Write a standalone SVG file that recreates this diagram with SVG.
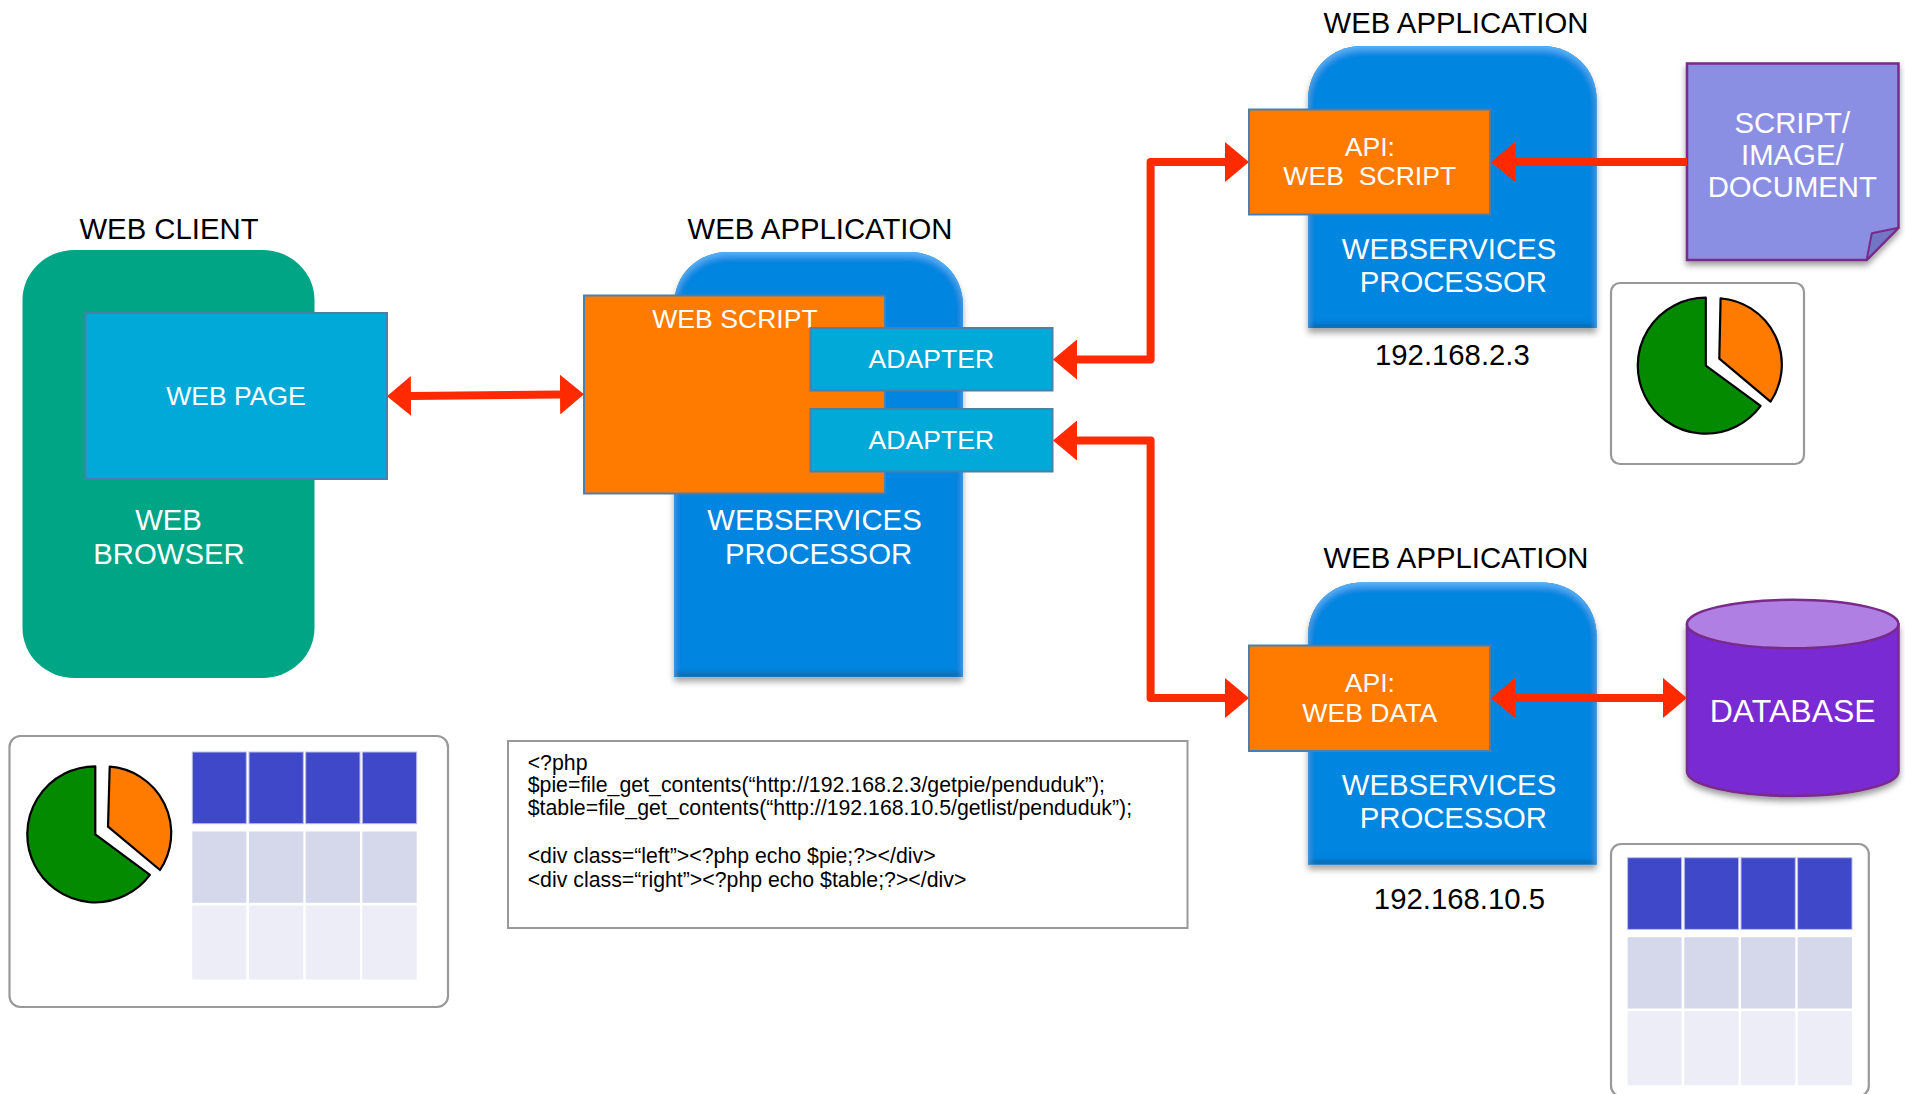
<svg xmlns="http://www.w3.org/2000/svg" width="1905" height="1094" viewBox="0 0 1905 1094">
<style>
text{font-family:"Liberation Sans",Arial,sans-serif;text-anchor:middle;fill:#fff}
.t29{font-size:29.3px}
.t26{font-size:26.6px}
.blk{fill:#000}
.blue{fill:#0285e0;filter:url(#bevel)}
.orange{fill:#ff7b00;stroke:#4a7fae;stroke-width:2}
.cyan{fill:#00a9d8;stroke:#4a7fae;stroke-width:2}
.panel{fill:#fff;stroke:#999;stroke-width:2.2}
.pie{stroke:#000;stroke-width:2.2;stroke-linejoin:round}
.h{fill:#3f48c8;stroke:#b9bde8;stroke-width:1}
.m{fill:#d5d7ea}
.l{fill:#ecedf6}
.wire{fill:none;stroke:#ff2a00;stroke-width:8;stroke-linejoin:round}
.code{font-size:21.3px;text-anchor:start;fill:#000}
</style>
<defs>
<marker id="head" markerUnits="userSpaceOnUse" markerWidth="24" markerHeight="40" refX="0" refY="20" orient="auto-start-reverse"><path d="M0 0L24 20L0 40Z" fill="#ff2a00"/></marker>
<filter id="bevel" x="-10%" y="-10%" width="120%" height="120%">
<feGaussianBlur in="SourceAlpha" stdDeviation="3" result="b"/>
<feOffset in="b" dy="5" result="so"/>
<feFlood flood-color="#000" flood-opacity=".35"/><feComposite in2="so" operator="in" result="shadow"/>
<feComponentTransfer in="SourceAlpha" result="inv"><feFuncA type="table" tableValues="1 0"/></feComponentTransfer>
<feGaussianBlur in="inv" stdDeviation="3" result="ib"/>
<feOffset in="ib" dy="4" result="lo"/>
<feFlood flood-color="#58b4fa" flood-opacity="1"/><feComposite in2="lo" operator="in"/><feComposite in2="SourceAlpha" operator="in" result="light"/>
<feOffset in="ib" dy="-3" result="dko"/>
<feFlood flood-color="#14609f" flood-opacity="1"/><feComposite in2="dko" operator="in"/><feComposite in2="SourceAlpha" operator="in" result="dark"/>
<feGaussianBlur in="inv" stdDeviation="1.5" result="ib2"/>
<feFlood flood-color="#14609f" flood-opacity=".7"/><feComposite in2="ib2" operator="in"/><feComposite in2="SourceAlpha" operator="in" result="edge"/>
<feMerge><feMergeNode in="shadow"/><feMergeNode in="SourceGraphic"/><feMergeNode in="edge"/><feMergeNode in="dark"/><feMergeNode in="light"/></feMerge>
</filter>
<filter id="shadow" x="-10%" y="-10%" width="120%" height="125%"><feDropShadow dx="0" dy="4" stdDeviation="3" flood-color="#000" flood-opacity=".4"/></filter>
<g id="table-cells-a">
<rect class="h" x="192.3" y="752" width="54" height="71.7"/><rect class="h" x="249" y="752" width="54.3" height="71.7"/><rect class="h" x="305.7" y="752" width="54.3" height="71.7"/><rect class="h" x="362.3" y="752" width="54.4" height="71.7"/>
<rect class="m" x="192.3" y="831.5" width="54" height="71.3"/><rect class="m" x="249" y="831.5" width="54.3" height="71.3"/><rect class="m" x="305.7" y="831.5" width="54.3" height="71.3"/><rect class="m" x="362.3" y="831.5" width="54.4" height="71.3"/>
<rect class="l" x="192.3" y="905.5" width="54" height="74"/><rect class="l" x="249" y="905.5" width="54.3" height="74"/><rect class="l" x="305.7" y="905.5" width="54.3" height="74"/><rect class="l" x="362.3" y="905.5" width="54.4" height="74"/>
</g>
<g id="pie-a">
<path class="pie" fill="#038a00" d="M95.3 834.3V766.3A68 68 0 1 0 149.9 874.8Z"/>
<path class="pie" fill="#ff7b00" d="M108 826.7L109.7 766.7A66.5 66.5 0 0 1 160 870Z"/>
</g>
</defs>

<g id="web-client">
<text class="t29 blk" x="169" y="238.5">WEB CLIENT</text>
<rect x="22.5" y="250" width="292" height="428" rx="52" ry="50" fill="#00a585"/>
<text class="t29" x="168.5" y="529.5">WEB</text>
<text class="t29" x="169" y="564">BROWSER</text>
</g>
<g id="web-page">
<rect class="cyan" x="85.5" y="313" width="301.5" height="166"/>
<text x="236" y="405" font-size="26.5">WEB PAGE</text>
</g>

<g id="web-app-main">
<text class="t29 blk" x="820" y="238.5">WEB APPLICATION</text>
<path class="blue" d="M674 676.7V306C674 274 698 252 728 252H909C939 252 963 274 963 306V676.7Z"/>
<text class="t29" x="814.5" y="529.5">WEBSERVICES</text>
<text class="t29" x="818.5" y="564">PROCESSOR</text>
</g>
<g id="web-script">
<rect class="orange" x="584" y="295.5" width="301" height="198"/>
<text class="t26" x="735" y="328">WEB SCRIPT</text>
</g>
<g id="adapter-1">
<rect class="cyan" x="810.5" y="328" width="242" height="62.5"/>
<text class="t26" x="931.4" y="367.5">ADAPTER</text>
</g>
<g id="adapter-2">
<rect class="cyan" x="810.5" y="409" width="242" height="62.5"/>
<text class="t26" x="931.4" y="448.5">ADAPTER</text>
</g>

<g id="web-app-script">
<text class="t29 blk" x="1456" y="32.5">WEB APPLICATION</text>
<path class="blue" d="M1308 328V100C1308 68 1332 46 1362 46H1542C1572 46 1596.6 68 1596.6 100V328Z"/>
<text class="t29" x="1449" y="259">WEBSERVICES</text>
<text class="t29" x="1453.3" y="291.5">PROCESSOR</text>
<text class="t29 blk" x="1452.4" y="364.5">192.168.2.3</text>
</g>
<g id="api-web-script">
<rect class="orange" x="1249" y="109.5" width="241" height="105"/>
<text class="t26" x="1369.8" y="156">API:</text>
<text class="t26" x="1369.8" y="185" xml:space="preserve">WEB  SCRIPT</text>
</g>

<g id="web-app-data">
<text class="t29 blk" x="1456" y="568">WEB APPLICATION</text>
<path class="blue" d="M1308 864.4V636C1308 604 1332 582.4 1362 582.4H1542C1572 582.4 1596.6 604 1596.6 636V864.4Z"/>
<text class="t29" x="1449" y="795">WEBSERVICES</text>
<text class="t29" x="1453.3" y="827.5">PROCESSOR</text>
<text class="t29 blk" x="1459.4" y="908.5">192.168.10.5</text>
</g>
<g id="api-web-data">
<rect class="orange" x="1249" y="645.5" width="241" height="105.5"/>
<text class="t26" x="1369.8" y="692">API:</text>
<text class="t26" x="1369.8" y="722">WEB DATA</text>
</g>

<g id="document">
<path d="M1687 63.5H1898.5V227.7L1866.6 260H1687Z" fill="#8b8fe3" stroke="#7a2a8a" stroke-width="2.5" filter="url(#shadow)"/>
<path d="M1898.5 227.7L1871.8 233.3L1866.6 260Z" fill="#7276c4" stroke="#7a2a8a" stroke-width="2" stroke-linejoin="round"/>
<text class="t29" x="1792.3" y="132.5">SCRIPT/</text>
<text class="t29" x="1792.3" y="164.5">IMAGE/</text>
<text class="t29" x="1792.3" y="196.5">DOCUMENT</text>
</g>

<g id="database">
<path d="M1687 624.4V771.5C1687 785 1734.4 796 1792.7 796S1898.5 785 1898.5 771.5V624.4Z" fill="#7a2ad2" stroke="#7a2a8a" stroke-width="2.5" filter="url(#shadow)"/>
<ellipse cx="1792.7" cy="624" rx="105.8" ry="24.2" fill="#b07fe3" stroke="#7a2a8a" stroke-width="2.5"/>
<text x="1792.7" y="722" font-size="32">DATABASE</text>
</g>

<g id="pie-panel">
<rect class="panel" x="1611" y="283" width="193" height="181" rx="9"/>
<path class="pie" fill="#038a00" d="M1705.8 365.7V297.7A68 68 0 1 0 1760.6 405.9Z"/>
<path class="pie" fill="#ff7b00" d="M1719.3 358.7L1720.6 298.3A66.5 66.5 0 0 1 1770.5 401.7Z"/>
</g>

<g id="table-panel">
<rect class="panel" x="1611" y="844" width="257.8" height="252" rx="10"/>
<use href="#table-cells-a" transform="translate(1435.3 105.7)"/>
</g>

<g id="result-panel">
<rect class="panel" x="9.5" y="736" width="438.5" height="271" rx="11"/>
<use href="#pie-a"/>
<use href="#table-cells-a"/>
</g>

<g id="code-panel">
<rect x="508" y="741" width="679.5" height="187" fill="#fff" stroke="#999" stroke-width="2"/>
<text class="code" x="527.7" y="770">&lt;?php</text>
<text class="code" x="527.7" y="791.5">$pie=file_get_contents(“http://192.168.2.3/getpie/penduduk”);</text>
<text class="code" x="527.7" y="815">$table=file_get_contents(“http://192.168.10.5/getlist/penduduk”);</text>
<text class="code" x="527.7" y="863">&lt;div class=“left”&gt;&lt;?php echo $pie;?&gt;&lt;/div&gt;</text>
<text class="code" x="527.7" y="887">&lt;div class=“right”&gt;&lt;?php echo $table;?&gt;&lt;/div&gt;</text>
</g>

<g id="connectors">
<path class="wire" d="M411 396L560 394.5" marker-start="url(#head)" marker-end="url(#head)"/>
<path class="wire" d="M1077 359.5H1150.6V162H1225" marker-start="url(#head)" marker-end="url(#head)"/>
<path class="wire" d="M1077 440.5H1150.6V698H1225" marker-start="url(#head)" marker-end="url(#head)"/>
<path class="wire" d="M1687 162H1515" marker-end="url(#head)"/>
<path class="wire" d="M1515 698H1663" marker-start="url(#head)" marker-end="url(#head)"/>
</g>
</svg>
